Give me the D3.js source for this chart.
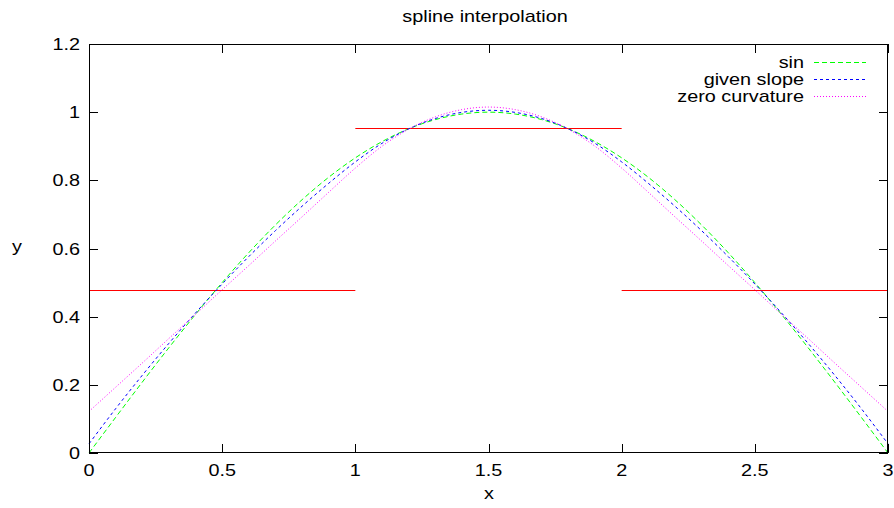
<!DOCTYPE html>
<html><head><meta charset="utf-8">
<script src="https://cdn.jsdelivr.net/npm/d3@7"></script>
<style>body{margin:0;background:#fff}svg{display:block}text{font-family:"Liberation Sans",Arial,sans-serif;fill:#000}</style>
</head><body><svg id="c" width="894" height="508"></svg>
<script>
const xs = [0,0.1,0.2,0.3,0.4,0.5,0.6,0.7,0.8,0.9,1.0,1.1,1.2,1.3,1.4,1.5,1.6,1.7,1.8,1.9,2.0,2.1,2.2,2.3,2.4,2.5,2.6,2.7,2.8,2.9,3.0];
const sinVals = [0,0.1045,0.2079,0.309,0.4067,0.5,0.5878,0.6691,0.7431,0.809,0.866,0.9135,0.9511,0.9781,0.9945,1.0,0.9945,0.9781,0.9511,0.9135,0.866,0.809,0.7431,0.6691,0.5878,0.5,0.4067,0.309,0.2079,0.1045,0];
const givenSlope = [0.027,0.130,0.228,0.3218,0.411,0.4959,0.5763,0.6524,0.7241,0.7913,0.8541,0.9085,0.951,0.9813,0.9994,1.0055,0.9994,0.9813,0.951,0.9085,0.8541,0.7913,0.7241,0.6524,0.5763,0.4959,0.411,0.3218,0.228,0.130,0.027];
const zeroCurv = [0.122,0.193,0.264,0.336,0.407,0.479,0.550,0.622,0.693,0.765,0.836,0.900,0.950,0.986,1.0075,1.015,1.0075,0.986,0.950,0.900,0.836,0.765,0.693,0.622,0.550,0.479,0.407,0.336,0.264,0.193,0.122];
const histStart = [0,1,2];
const histEnd = [1,2,3];
const histVal = [0.4775,0.9549,0.4775];
const xTicks = [0,0.5,1,1.5,2,2.5,3];
const xTickLabels = ["0","0.5","1","1.5","2","2.5","3"];
const yTicks = [0,0.2,0.4,0.6,0.8,1,1.2];
const yTickLabels = ["0","0.2","0.4","0.6","0.8","1","1.2"];
const seriesNames = ["sin","given slope","zero curvature"];

const L=89,R=888,T=44,B=453;
const svg=d3.select("#c");
const x=d3.scaleLinear().domain([0,3]).range([L,R]);
const y=d3.scaleLinear().domain([0,1.2]).range([B,T]);
const fs=16, sx=1.24;
function txt(px,py,anchor,s){
  svg.append("text").attr("transform",`translate(${px},${py}) scale(${sx},1)`).attr("text-anchor",anchor).attr("font-size",fs).text(s);
}

const tl=9;
const g=svg.append("g").attr("stroke","#000").attr("stroke-width",1);
xTicks.forEach(v=>{
  const px=Math.round(x(v))+0.5;
  g.append("line").attr("x1",px).attr("x2",px).attr("y1",B).attr("y2",B-tl);
  g.append("line").attr("x1",px).attr("x2",px).attr("y1",T).attr("y2",T+tl);
});
yTicks.forEach(v=>{
  const py=Math.round(y(v))+0.5;
  g.append("line").attr("x1",L).attr("x2",L+tl).attr("y1",py).attr("y2",py);
  g.append("line").attr("x1",R).attr("x2",R-tl).attr("y1",py).attr("y2",py);
});
xTicks.forEach((v,i)=>txt(x(v),B+23,"middle",xTickLabels[i]));
yTicks.forEach((v,i)=>txt(L-9,y(v)+6,"end",yTickLabels[i]));

txt(485,22,"middle","spline interpolation");
txt(489,499,"middle","x");
txt(17,252,"middle","y");

histVal.forEach((v,i)=>{
  svg.append("line").attr("x1",x(histStart[i])).attr("x2",x(histEnd[i])).attr("y1",Math.round(y(v))+0.5).attr("y2",Math.round(y(v))+0.5).attr("stroke","#ff0000").attr("stroke-width",1);
});

const series=[
  {vals:sinVals,color:"#00ff00",dash:"5,3"},
  {vals:givenSlope,color:"#0000ff",dash:"3,3"},
  {vals:zeroCurv,color:"#ff00ff",dash:"1,2"}
];
const line=d3.line().x(d=>x(d[0])).y(d=>y(d[1])).curve(d3.curveMonotoneX);
series.forEach((s,i)=>{
  svg.append("path").attr("d",line(xs.map((v,j)=>[v,s.vals[j]]))).attr("fill","none").attr("stroke",s.color).attr("stroke-width",1).attr("stroke-dasharray",s.dash);
  const ly=62+i*17;
  txt(804,ly+6,"end",seriesNames[i]);
  svg.append("line").attr("x1",814).attr("x2",866).attr("y1",ly+0.5).attr("y2",ly+0.5).attr("stroke",s.color).attr("stroke-width",1).attr("stroke-dasharray",s.dash);
});

svg.append("rect").attr("x",L+0.5).attr("y",T+0.5).attr("width",R-L-1).attr("height",B-T-1).attr("fill","none").attr("stroke","#000").attr("stroke-width",1);
</script></body></html>
